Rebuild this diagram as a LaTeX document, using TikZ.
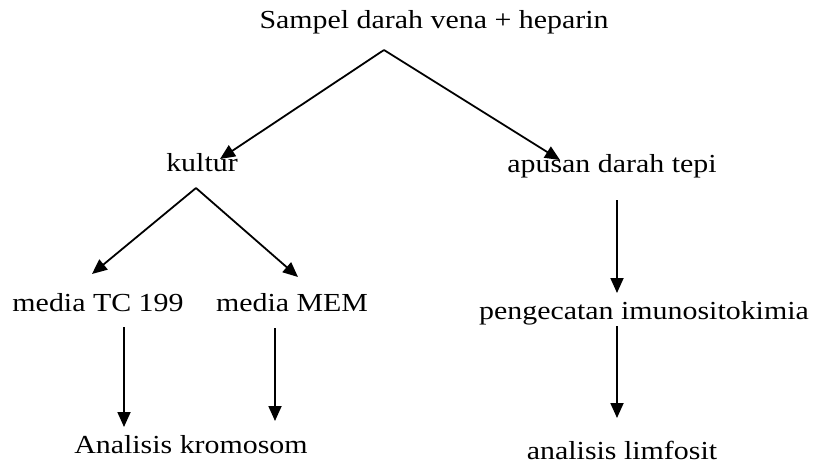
\documentclass[tikz,border=0pt]{standalone}
\usepackage{fontspec}
\setmainfont{Liberation Serif}
\newfontfamily\lblfont[FakeStretch=1.15]{Liberation Serif}
\usetikzlibrary{arrows.meta}
\begin{document}
\begin{tikzpicture}[x=1pt,y=-1pt,
  lbl/.style={anchor=base,inner sep=0pt,font=\lblfont\fontsize{26}{30}\selectfont},
  arr/.style={line width=1.8pt,-{Triangle[length=15pt,width=13pt]}}]
\useasboundingbox (0,0) rectangle (817,466);
\node[lbl] (s) at (434,28) {Sampel darah vena + heparin};
\node[lbl] (k) at (202,171) {kultur};
\node[lbl] (ap) at (612,172) {apusan darah tepi};
\node[lbl] (tc) at (98,311) {media TC 199};
\node[lbl] (mem) at (292,311) {media MEM};
\node[lbl] (ak) at (191,453) {Analisis kromosom};
\node[lbl] (pi) at (644,319) {pengecatan imunositokimia};
\node[lbl] (al) at (622,459) {analisis limfosit};
% connector end points
\coordinate (sa) at (384,50);
\coordinate (kt) at (220,159);
\coordinate (apt) at (560,160);
\coordinate (ka) at (196,188);
\coordinate (tct) at (92,274);
\coordinate (memt) at (298,277);
\coordinate (tcs) at (124,327);
\coordinate (akt) at (124,427);
\coordinate (mems) at (275,328);
\coordinate (akt2) at (275,421);
\coordinate (aps) at (617,200);
\coordinate (pit) at (617,293);
\coordinate (pis) at (617,326);
\coordinate (alt) at (617,418);
\draw[arr] (sa) -- (kt);
\draw[arr] (sa) -- (apt);
\draw[arr] (ka) -- (tct);
\draw[arr] (ka) -- (memt);
\draw[arr] (tcs) -- (akt);
\draw[arr] (mems) -- (akt2);
\draw[arr] (aps) -- (pit);
\draw[arr] (pis) -- (alt);
\end{tikzpicture}
\end{document}
